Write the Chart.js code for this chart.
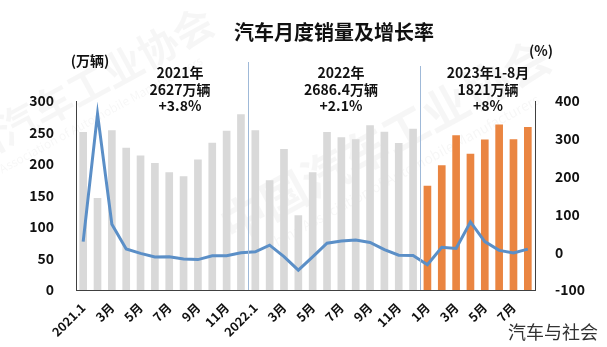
<!DOCTYPE html>
<html>
<head>
<meta charset="utf-8">
<script src="https://cdn.jsdelivr.net/npm/chart.js@4"></script>
<style>
  html, body { margin: 0; padding: 0; background: #fff; }
  #wrap { width: 607px; height: 347px; position: relative; }
</style>
</head>
<body>
<div id="wrap"><canvas id="c" width="607" height="347"></canvas></div>
<script>
// Monthly vehicle sales (万辆) and year-on-year growth (%), 2021.1 – 2023.8
const categories = [
  '2021.1','2月','3月','4月','5月','6月','7月','8月','9月','10月','11月','12月',
  '2022.1','2月','3月','4月','5月','6月','7月','8月','9月','10月','11月','12月',
  '1月','2月','3月','4月','5月','6月','7月','8月'
];
const sales = [
  250.3, 145.5, 253.1, 225.2, 212.8, 201.2, 186.3, 179.9, 206.7, 233.1, 252.2, 278.6,
  253.1, 173.7, 223.4, 118.1, 186.2, 250.2, 242.0, 238.7, 261.0, 250.5, 232.9, 255.6,
  164.9, 197.6, 245.1, 215.9, 238.2, 262.2, 238.7, 258.2
];
const growth = [
  28, 366, 74, 8.6, -3.1, -12.4, -11.9, -18.1, -19.6, -9.4, -9.1, -1.6,
  0.9, 18.7, -11.7, -47.6, -12.6, 23.8, 29.7, 32.1, 25.7, 6.9, -7.9, -8.4,
  -33, 13.2, 9.7, 80, 27.9, 4.8, -1.9, 8.2
];
const yearLabels = [
  ['2021年', '2627万辆', '+3.8%'],
  ['2022年', '2686.4万辆', '+2.1%'],
  ['2023年1-8月', '1821万辆', '+8%']
];
const leftTicks = { min: 0, max: 300, step: 50 };
const rightTicks = { min: -100, max: 400, step: 50 };

const FONT = '"Noto Sans CJK SC", "Noto Sans", sans-serif';
const barColors = sales.map((_, i) => i < 24 ? '#d9d9d9' : '#ea8541');

// Faint association watermark behind the chart
const watermark = {
  id: 'watermark',
  beforeDraw(chart) {
    const ctx = chart.ctx;
    ctx.save();
    ctx.fillStyle = 'rgba(0,0,0,0.035)';
    ctx.textAlign = 'center';
    ctx.textBaseline = 'middle';
    const marks = [[385, 140, 46, 14], [70, 95, 40, 12]];
    marks.forEach(([x, y, s1, s2]) => {
      ctx.save();
      ctx.translate(x, y);
      ctx.rotate(-0.5);
      ctx.font = 'bold ' + s1 + 'px ' + FONT;
      ctx.fillText('中国汽车工业协会', 0, 0);
      ctx.font = s2 + 'px ' + FONT;
      ctx.fillText('China Association of Automobile Manufacturers', 0, s1 * 0.8);
      ctx.restore();
    });
    ctx.restore();
  }
};

// Year separators, yearly totals, title, units and footer
const decorations = {
  id: 'decorations',
  afterDatasetsDraw(chart) {
    const ctx = chart.ctx;
    const x = chart.scales.x;
    const area = chart.chartArea;
    ctx.save();
    ctx.strokeStyle = '#9fb9d8';
    ctx.lineWidth = 1;
    [[12, 62], [24, 66]].forEach(([idx, top]) => {
      const px = Math.round((x.getPixelForValue(idx - 1) + x.getPixelForValue(idx)) / 2) + 0.5;
      ctx.beginPath();
      ctx.moveTo(px, top);
      ctx.lineTo(px, area.bottom);
      ctx.stroke();
    });

    ctx.fillStyle = '#111';
    ctx.textAlign = 'center';
    ctx.textBaseline = 'middle';
    ctx.font = 'bold 20px ' + FONT;
    ctx.fillText('汽车月度销量及增长率', 334, 32);

    ctx.font = 'bold 14px ' + FONT;
    const centers = [180, 341, 488];
    yearLabels.forEach((lines, k) => {
      lines.forEach((t, j) => ctx.fillText(t, centers[k], 73 + j * 16.5));
    });

    ctx.font = 'bold 14px ' + FONT;
    ctx.fillText('(万辆)', 90, 61);
    ctx.fillText('(%)', 541, 51);

    ctx.fillStyle = '#333';
    ctx.font = '18px ' + FONT;
    ctx.fillText('汽车与社会', 553, 332);
    ctx.restore();
  }
};

new Chart(document.getElementById('c'), {
  data: {
    labels: categories,
    datasets: [
      {
        type: 'line',
        data: growth,
        yAxisID: 'y2',
        borderColor: '#5b8fc7',
        borderWidth: 3,
        pointRadius: 0,
        tension: 0,
        order: 0
      },
      {
        type: 'bar',
        data: sales,
        yAxisID: 'y',
        backgroundColor: barColors,
        barThickness: 7,
        order: 1
      }
    ]
  },
  options: {
    responsive: false,
    animation: false,
    events: [],
    layout: { padding: { top: 101, left: 0, right: 0, bottom: 0 } },
    plugins: { legend: { display: false }, tooltip: { enabled: false } },
    scales: {
      x: {
        grid: { display: false },
        border: { display: true, color: '#404040', width: 1 },
        ticks: {
          autoSkip: false,
          minRotation: 45,
          maxRotation: 45,
          color: '#111',
          padding: 2,
          font: { family: FONT, size: 12.5, weight: 'bold' },
          callback: (v, i) => i % 2 === 0 ? categories[i] : ''
        },
        afterFit(s) { s.height = 57; }
      },
      y: {
        position: 'left',
        min: leftTicks.min,
        max: leftTicks.max,
        grid: { display: false },
        border: { display: true, color: '#404040', width: 1 },
        ticks: {
          stepSize: leftTicks.step,
          color: '#111',
          padding: 14,
          font: { family: FONT, size: 14, weight: 'bold' }
        },
        afterFit(s) { s.width = 76; }
      },
      y2: {
        position: 'right',
        min: rightTicks.min,
        max: rightTicks.max,
        grid: { display: false },
        border: { display: true, color: '#404040', width: 1 },
        ticks: {
          stepSize: rightTicks.step,
          color: '#111',
          padding: 12,
          font: { family: FONT, size: 14, weight: 'bold' }
        },
        afterFit(s) { s.width = 72; }
      }
    }
  },
  plugins: [watermark, decorations]
});
</script>
</body>
</html>
